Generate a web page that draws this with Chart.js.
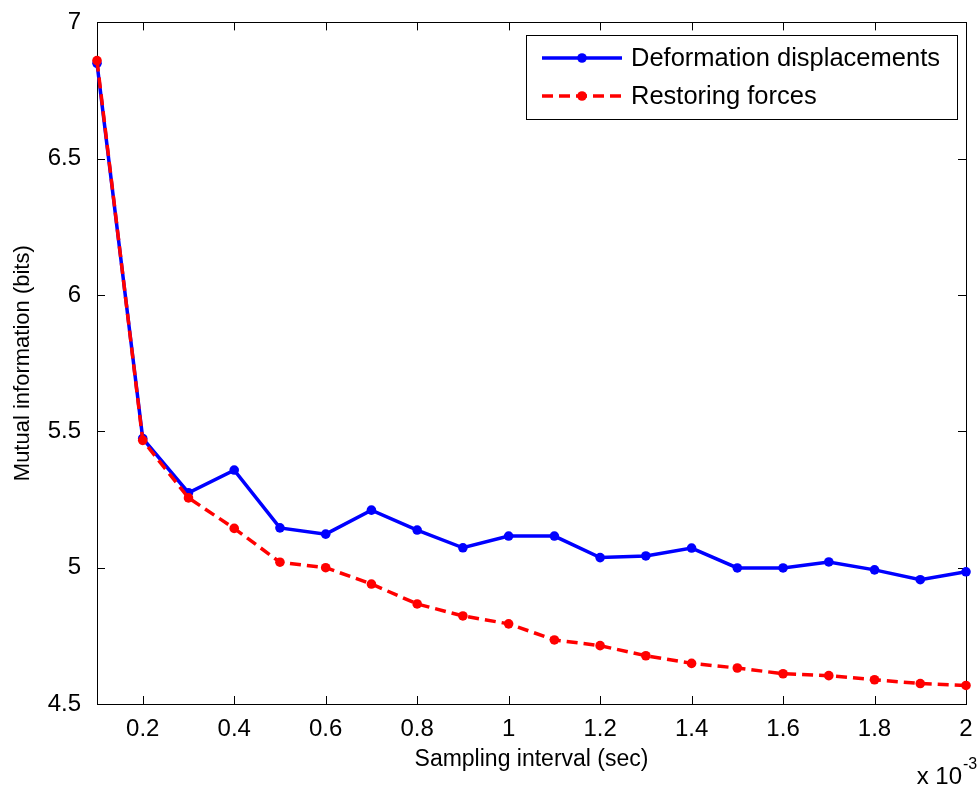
<!DOCTYPE html>
<html>
<head>
<meta charset="utf-8">
<script src="https://cdn.jsdelivr.net/npm/chart.js@4"></script>
<style>
  html, body { margin: 0; padding: 0; background: #fff; }
  #wrap { width: 979px; height: 789px; }
</style>
</head>
<body>
<div id="wrap"><canvas id="miChart" width="979" height="789"></canvas></div>
<script>
// sampling interval, in units of 1e-3 s
const intervals = [0.1, 0.2, 0.3, 0.4, 0.5, 0.6, 0.7, 0.8, 0.9, 1.0,
                   1.1, 1.2, 1.3, 1.4, 1.5, 1.6, 1.7, 1.8, 1.9, 2.0];

// mutual information (bits)
const displacementMI = [6.85, 5.474, 5.275, 5.358, 5.146, 5.123, 5.211, 5.138, 5.073, 5.116,
                        5.116, 5.037, 5.043, 5.072, 4.999, 4.999, 5.021, 4.992, 4.956, 4.985];
const forceMI = [6.86, 5.467, 5.256, 5.144, 5.020, 5.000, 4.940, 4.867, 4.823, 4.794,
                 4.735, 4.714, 4.677, 4.649, 4.632, 4.611, 4.604, 4.589, 4.575, 4.568];

const xTicks = [0.2, 0.4, 0.6, 0.8, 1.0, 1.2, 1.4, 1.6, 1.8, 2.0];
const yTicks = [4.5, 5, 5.5, 6, 6.5, 7];

const seriesNames = ['Deformation displacements', 'Restoring forces'];

const FONT = '"Liberation Sans", Arial, Helvetica, sans-serif';

function pairs(xs, ys) {
  return xs.map((x, i) => ({ x: x, y: ys[i] }));
}

// MATLAB-style box with inward ticks on all four sides
const axesBox = {
  id: 'axesBox',
  beforeDatasetsDraw(chart) {
    const { ctx, chartArea: a, scales } = chart;
    const len = 8;
    ctx.save();
    ctx.strokeStyle = '#000';
    ctx.lineWidth = 1;
    ctx.strokeRect(Math.round(a.left) + 0.5, Math.round(a.top) + 0.5,
                   Math.round(a.right - a.left), Math.round(a.bottom - a.top));
    ctx.beginPath();
    scales.x.ticks.forEach(t => {
      const px = Math.round(scales.x.getPixelForValue(t.value)) + 0.5;
      ctx.moveTo(px, a.bottom); ctx.lineTo(px, a.bottom - len);
      ctx.moveTo(px, a.top); ctx.lineTo(px, a.top + len);
    });
    scales.y.ticks.forEach(t => {
      const py = Math.round(scales.y.getPixelForValue(t.value)) + 0.5;
      ctx.moveTo(a.left, py); ctx.lineTo(a.left + len, py);
      ctx.moveTo(a.right, py); ctx.lineTo(a.right - len, py);
    });
    ctx.stroke();
    ctx.restore();
  }
};

// boxed legend in the upper right, plus the x 10^-3 exponent label
const boxLegend = {
  id: 'boxLegend',
  afterDraw(chart) {
    const { ctx } = chart;
    const bx = 526, by = 35, bw = 431, bh = 84;
    ctx.save();
    ctx.fillStyle = '#fff';
    ctx.fillRect(bx, by, bw, bh);
    ctx.strokeStyle = '#000';
    ctx.lineWidth = 1;
    ctx.strokeRect(bx + 0.5, by + 0.5, bw, bh);

    const rows = [58, 96];
    chart.data.datasets.forEach((ds, i) => {
      const y = rows[i];
      ctx.strokeStyle = ds.borderColor;
      ctx.lineWidth = ds.borderWidth;
      ctx.setLineDash(ds.borderDash || []);
      ctx.beginPath();
      ctx.moveTo(542, y);
      ctx.lineTo(622, y);
      ctx.stroke();
      ctx.setLineDash([]);
      ctx.fillStyle = ds.pointBackgroundColor;
      ctx.beginPath();
      ctx.arc(582, y, ds.pointRadius, 0, Math.PI * 2);
      ctx.fill();
      ctx.fillStyle = '#000';
      ctx.font = '25.5px ' + FONT;
      ctx.textBaseline = 'middle';
      ctx.textAlign = 'left';
      ctx.fillText(ds.label, 631, y + 1);
    });

    // exponent of the x axis, right-aligned under the last tick
    ctx.fillStyle = '#000';
    ctx.textBaseline = 'alphabetic';
    ctx.textAlign = 'right';
    ctx.font = '24px ' + FONT;
    ctx.fillText('x 10', 962, 784);
    ctx.textAlign = 'left';
    ctx.font = '16px ' + FONT;
    ctx.fillText('-3', 963, 769);
    ctx.restore();
  }
};

const ctx = document.getElementById('miChart').getContext('2d');

new Chart(ctx, {
  type: 'line',
  data: {
    datasets: [
      {
        label: seriesNames[0],
        data: pairs(intervals, displacementMI),
        borderColor: '#0000ff',
        backgroundColor: '#0000ff',
        pointBackgroundColor: '#0000ff',
        pointBorderWidth: 0,
        pointRadius: 4.8,
        borderWidth: 3.5,
        tension: 0,
        clip: false,
        order: 1
      },
      {
        label: seriesNames[1],
        data: pairs(intervals, forceMI),
        borderColor: '#ff0000',
        backgroundColor: '#ff0000',
        pointBackgroundColor: '#ff0000',
        pointBorderWidth: 0,
        pointRadius: 4.8,
        borderWidth: 3.5,
        borderDash: [11, 6],
        tension: 0,
        clip: false,
        order: 0
      }
    ]
  },
  options: {
    responsive: false,
    animation: false,
    devicePixelRatio: 1,
    layout: { padding: { top: 21, right: 13, left: 0, bottom: 0 } },
    plugins: {
      legend: { display: false },
      tooltip: { enabled: false }
    },
    scales: {
      x: {
        type: 'linear',
        min: 0.1,
        max: 2,
        afterBuildTicks: s => { s.ticks = xTicks.map(v => ({ value: v })); },
        afterFit: s => { s.height = 85; },
        grid: { display: false },
        border: { display: false },
        ticks: {
          color: '#000',
          font: { family: FONT, size: 24 },
          padding: 3,
          maxRotation: 0,
          autoSkip: false,
          callback: v => String(+Number(v).toFixed(1))
        },
        title: {
          display: true,
          text: 'Sampling interval (sec)',
          color: '#000',
          font: { family: FONT, size: 23 },
          padding: { top: 0, bottom: 16 }
        }
      },
      y: {
        type: 'linear',
        min: 4.5,
        max: 7,
        afterBuildTicks: s => { s.ticks = yTicks.map(v => ({ value: v })); },
        afterFit: s => { s.width = 97; },
        grid: { display: false },
        border: { display: false },
        ticks: {
          color: '#000',
          font: { family: FONT, size: 24 },
          padding: 8,
          autoSkip: false,
          callback: v => String(v)
        },
        title: {
          display: true,
          text: 'Mutual information (bits)',
          color: '#000',
          font: { family: FONT, size: 22 },
          padding: { top: 10, bottom: 0 }
        }
      }
    }
  },
  plugins: [axesBox, boxLegend]
});
</script>
</body>
</html>
